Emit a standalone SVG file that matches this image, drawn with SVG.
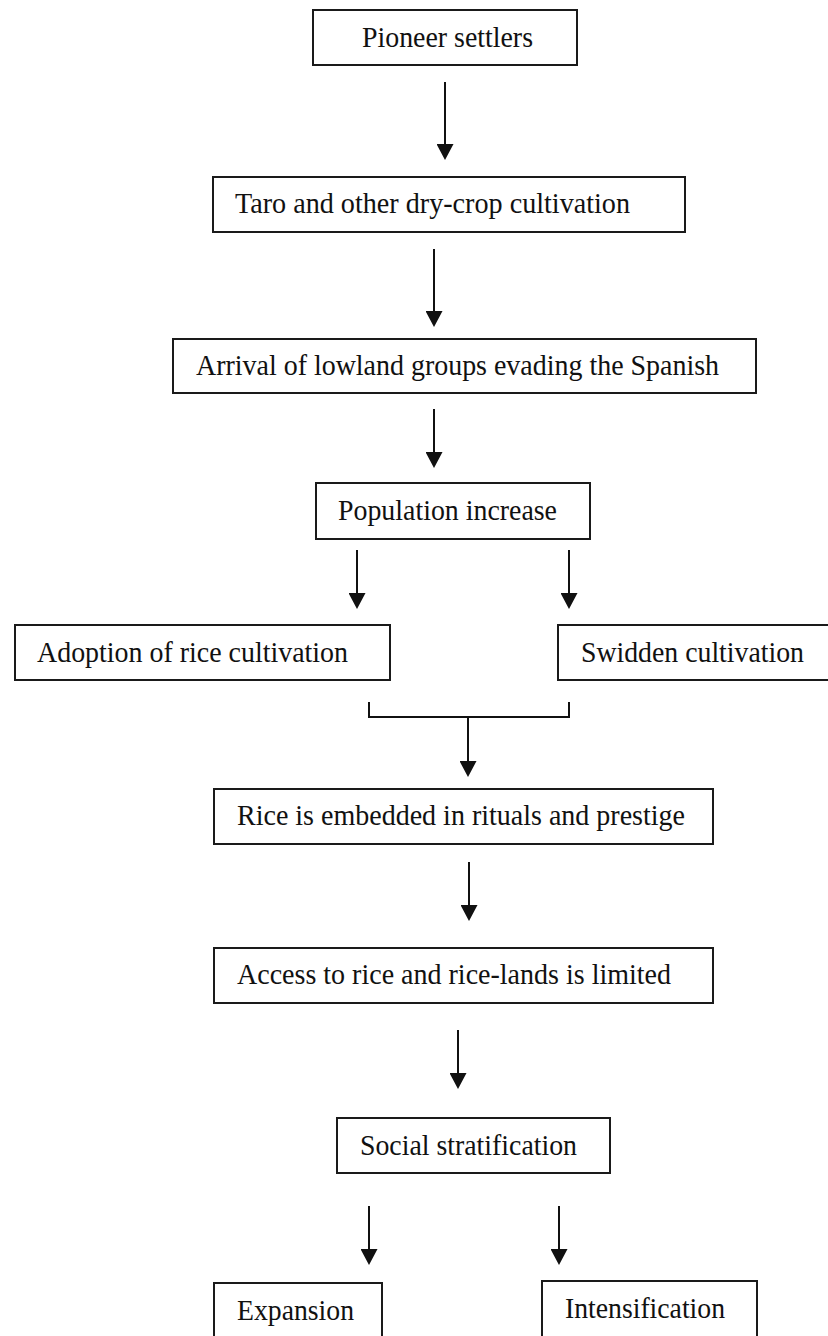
<svg xmlns="http://www.w3.org/2000/svg" width="828" height="1336" viewBox="0 0 828 1336">
<style>
.box{fill:#fff;stroke:#1a1a1a;stroke-width:2}
.t{font-family:"Liberation Serif","Times New Roman",serif;font-size:30px;fill:#111}
.c{stroke:#111;stroke-width:2;fill:none}
.a{stroke:#111;stroke-width:2;fill:none;marker-end:url(#ah)}
</style>
<defs>
<marker id="ah" viewBox="0 0 16 17" refX="6" refY="8.5" markerWidth="16" markerHeight="17" markerUnits="userSpaceOnUse" orient="auto">
<path d="M0,0 L16,8.5 L0,17 z" fill="#111"/>
</marker>
</defs>
<rect width="828" height="1336" fill="#fff"/>
<g id="n1"><rect class="box" x="313" y="10" width="264" height="55"/><text class="t" x="362" y="47" textLength="171" lengthAdjust="spacingAndGlyphs">Pioneer settlers</text></g>
<g id="n2"><rect class="box" x="213" y="177" width="472" height="55"/><text class="t" x="235" y="213" textLength="395" lengthAdjust="spacingAndGlyphs">Taro and other dry-crop cultivation</text></g>
<g id="n3"><rect class="box" x="173" y="339" width="583" height="54"/><text class="t" x="196" y="375" textLength="523" lengthAdjust="spacingAndGlyphs">Arrival of lowland groups evading the Spanish</text></g>
<g id="n4"><rect class="box" x="316" y="483" width="274" height="56"/><text class="t" x="338" y="520" textLength="219" lengthAdjust="spacingAndGlyphs">Population increase</text></g>
<g id="n5"><rect class="box" x="15" y="625" width="375" height="55"/><text class="t" x="37" y="662" textLength="311" lengthAdjust="spacingAndGlyphs">Adoption of rice cultivation</text></g>
<g id="n6"><rect class="box" x="558" y="625" width="280" height="55"/><text class="t" x="581" y="662" textLength="223" lengthAdjust="spacingAndGlyphs">Swidden cultivation</text></g>
<g id="n7"><rect class="box" x="214" y="789" width="499" height="55"/><text class="t" x="237" y="825" textLength="448" lengthAdjust="spacingAndGlyphs">Rice is embedded in rituals and prestige</text></g>
<g id="n8"><rect class="box" x="214" y="948" width="499" height="55"/><text class="t" x="237" y="984" textLength="434" lengthAdjust="spacingAndGlyphs">Access to rice and rice-lands is limited</text></g>
<g id="n9"><rect class="box" x="337" y="1118" width="273" height="55"/><text class="t" x="360" y="1155" textLength="217" lengthAdjust="spacingAndGlyphs">Social stratification</text></g>
<g id="n10"><rect class="box" x="214" y="1283" width="168" height="70"/><text class="t" x="237" y="1320" textLength="117" lengthAdjust="spacingAndGlyphs">Expansion</text></g>
<g id="n11"><rect class="box" x="542" y="1281" width="215" height="72"/><text class="t" x="565" y="1318" textLength="160" lengthAdjust="spacingAndGlyphs">Intensification</text></g>
<g id="connectors">
<line class="a" x1="445" y1="82" x2="445" y2="150"/>
<line class="a" x1="434" y1="249" x2="434" y2="317"/>
<line class="a" x1="434" y1="409" x2="434" y2="458"/>
<line class="a" x1="357" y1="550" x2="357" y2="599"/>
<line class="a" x1="569" y1="550" x2="569" y2="599"/>
<path class="c" d="M369,702 V717 H569 V702"/>
<line class="a" x1="468" y1="717" x2="468" y2="767"/>
<line class="a" x1="469" y1="862" x2="469" y2="911"/>
<line class="a" x1="458" y1="1030" x2="458" y2="1079"/>
<line class="a" x1="369" y1="1206" x2="369" y2="1255"/>
<line class="a" x1="559" y1="1206" x2="559" y2="1255"/>
</g>
</svg>
